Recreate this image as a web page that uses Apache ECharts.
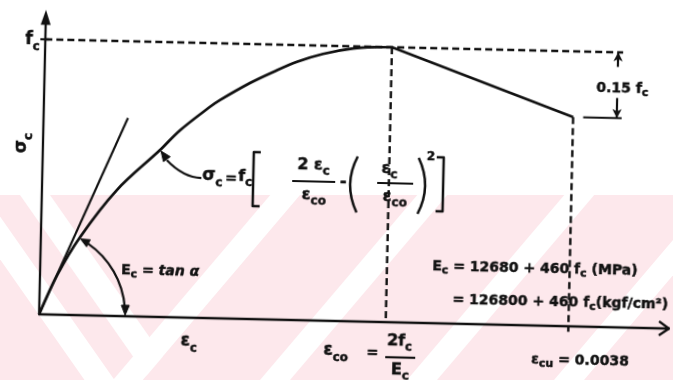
<!DOCTYPE html>
<html>
<head>
<meta charset="utf-8">
<script src="https://cdn.jsdelivr.net/npm/echarts@6/dist/echarts.min.js"></script>
<style>
  html, body { margin: 0; padding: 0; background: #fff; overflow: hidden; }
  .layer { position: absolute; left: 0; top: 0; width: 673px; height: 380px; }
  #chart { transform: rotate(1.3deg); transform-origin: 50% 50%; }
</style>
</head>
<body>
<div id="stamp" class="layer"></div>
<div id="chart" class="layer"></div>
<script>
// Hognestad stress-strain curve for concrete.
// Strain in units of eps_co, stress in units of f_c.
const ascStrain = [0, 0.05, 0.113, 0.216, 0.338, 0.394, 0.479, 0.508, 0.593, 0.659, 0.727, 0.802, 0.888, 0.957, 1.0];
const ascStress = [0, 0.145, 0.284, 0.458, 0.607, 0.68, 0.768, 0.794, 0.858, 0.9, 0.939, 0.970, 0.992, 0.999, 1.0];
const descStrain = [1.0, 1.527];
const descStress = [1.0, 0.761];
const tangentStrain = [0, 0.2434];
const tangentStress = [0, 0.721];
const peakStrain = 1.0, peakStress = 1.0;
const ultStrain = 1.527, ultStress = 0.761;
const dimStart = 1.556, dimEnd = 1.667, dimArrowX = 1.653;

const X_MAX = 1.82, Y_MAX = 1.08;
const FONT = '"DejaVu Sans", "Liberation Sans", sans-serif';
const INK = '#111111';
const PINK = '#fde8ec';

const pairs = (xs, ys) => xs.map((x, i) => [x, ys[i]]);
const base = { type: 'line', symbol: 'none', silent: true, animation: false, clip: false, z: 5 };
const dashed = { color: INK, width: 2.4, type: [7, 4] };

// faint chevron-striped stamp behind the drawing
const stampChart = echarts.init(document.getElementById('stamp'), null, { renderer: 'canvas' });
const STAMP_TOP = 195, STAMP_BOTTOM = 380;
const risingFeet = [113, 260, 407, 554, 701];   // '/' gaps, foot x at the bottom edge
const fallingTops = [-45, 20];                    // '\' gaps, x at the top edge
const stampEls = [{ type: 'rect', silent: true,
  shape: { x: 0, y: STAMP_TOP, width: 673, height: STAMP_BOTTOM - STAMP_TOP }, style: { fill: PINK } }];
risingFeet.forEach(function (b) {
  const run = 0.85 * (STAMP_BOTTOM - STAMP_TOP);
  stampEls.push({ type: 'polygon', silent: true,
    shape: { points: [[b, STAMP_BOTTOM], [b + 30, STAMP_BOTTOM], [b + 30 + run, STAMP_TOP], [b + run, STAMP_TOP]] },
    style: { fill: '#ffffff' } });
});
fallingTops.forEach(function (t) {
  const run = 0.7 * (STAMP_BOTTOM - STAMP_TOP);
  stampEls.push({ type: 'polygon', silent: true,
    shape: { points: [[t, STAMP_TOP], [t + 30, STAMP_TOP], [t + 30 + run, STAMP_BOTTOM], [t + run, STAMP_BOTTOM]] },
    style: { fill: '#ffffff' } });
});
// keep the lower-right part of each '\' gap from crossing the first '/' gap
stampEls.push({ type: 'polygon', silent: true,
  shape: { points: [[143, STAMP_BOTTOM], [143 + 0.85 * 185, STAMP_TOP], [170 + 0.85 * 185, STAMP_TOP], [190, STAMP_BOTTOM]] },
  style: { fill: PINK } });
stampChart.setOption({ animation: false, graphic: stampEls });

const chart = echarts.init(document.getElementById('chart'), null, { renderer: 'canvas' });

chart.setOption({
  animation: false,
  backgroundColor: 'transparent',
  grid: { left: 42, right: 0, top: 24, bottom: 59 },
  xAxis: {
    type: 'value', min: 0, max: X_MAX,
    axisLine: { show: true, onZero: false, lineStyle: { color: INK, width: 2.3 } },
    axisTick: { show: false }, axisLabel: { show: false }, splitLine: { show: false }
  },
  yAxis: {
    type: 'value', min: 0, max: Y_MAX,
    axisLine: { show: true, onZero: false, symbol: ['none', 'triangle'], symbolSize: [10, 15],
      lineStyle: { color: INK, width: 2.3 } },
    axisTick: { show: false }, axisLabel: { show: false }, splitLine: { show: false }
  },
  series: [
    Object.assign({}, base, { data: pairs(ascStrain, ascStress), smooth: 0.35,
      lineStyle: { color: INK, width: 2.7 } }),
    Object.assign({}, base, { data: pairs(descStrain, descStress),
      lineStyle: { color: INK, width: 2.5 } }),
    Object.assign({}, base, { data: pairs(tangentStrain, tangentStress),
      lineStyle: { color: INK, width: 2.1 } }),
    Object.assign({}, base, { data: [[0, peakStress], [dimEnd, peakStress]], lineStyle: dashed }),
    Object.assign({}, base, { data: [[peakStrain, peakStress], [peakStrain, 0]], lineStyle: dashed }),
    Object.assign({}, base, { data: [[ultStrain, ultStress], [ultStrain, -0.02]], lineStyle: dashed }),
    Object.assign({}, base, { data: [[dimStart, ultStress], [dimEnd, ultStress]],
      lineStyle: { color: INK, width: 2.2 } }),
    Object.assign({}, base, {
      data: [],
      markLine: {
        silent: true, animation: false,
        symbol: ['none', 'arrow'], symbolSize: [7, 9],
        label: { show: false },
        lineStyle: { color: INK, width: 2.2, type: 'solid' },
        data: [
          [{ coord: [dimArrowX, 0.947] }, { coord: [dimArrowX, peakStress] }],
          [{ coord: [dimArrowX, 0.834] }, { coord: [dimArrowX, ultStress] }]
        ]
      }
    })
  ]
});

// ---------- annotations ----------
const px = (x, y) => chart.convertToPixel({ gridIndex: 0 }, [x, y]);

function tok(size, extra) {
  return Object.assign({ fontSize: size, fontWeight: 'bold', fontFamily: FONT, fill: INK,
    stroke: INK, lineWidth: 0.5,
    lineHeight: Math.round(size * 1.45), verticalAlign: 'middle' }, extra || {});
}
function sub(size) {
  return tok(size, { lineHeight: Math.round(size * 0.85), verticalAlign: 'bottom' });
}
const RICH = {
  m: tok(14), i: tok(14, { fontStyle: 'italic' }), s: sub(11),
  g: tok(17), gs: sub(12),
  f: tok(16), fs: sub(12),
  n: tok(14), ns: sub(11),
  sup: tok(12)
};

function T(x, y, text, align, rot) {
  align = align || 'left';
  return {
    type: 'text', x: x, y: y, z: 20, silent: true, rotation: rot || 0,
    style: {
      text: text, rich: RICH, fill: INK, font: 'bold 14px ' + FONT,
      align: align, verticalAlign: 'middle', textAlign: align, textVerticalAlign: 'middle'
    }
  };
}
function L(points, w) {
  return { type: 'polyline', z: 20, silent: true, shape: { points: points },
    style: { stroke: INK, lineWidth: w || 2.2, fill: null, lineJoin: 'round' } };
}
function Q(x1, y1, cx, cy, x2, y2, w) {
  return { type: 'bezierCurve', z: 20, silent: true,
    shape: { x1: x1, y1: y1, cpx1: cx, cpy1: cy, x2: x2, y2: y2 },
    style: { stroke: INK, lineWidth: w || 2.2, fill: null } };
}
function head(tip, dir, len, hw) {
  len = len || 9; hw = hw || 3.6;
  const n = Math.hypot(dir[0], dir[1]);
  const ux = dir[0] / n, uy = dir[1] / n;
  const bx = tip[0] - ux * len, by = tip[1] - uy * len;
  return { type: 'polygon', z: 20, silent: true,
    shape: { points: [tip, [bx - uy * hw, by + ux * hw], [bx + uy * hw, by - ux * hw]] },
    style: { fill: INK, stroke: INK, lineWidth: 1 } };
}

function annotate() {
  const O = px(0, 0);
  const xEnd = px(X_MAX, 0);
  const fcTick = px(0, peakStress);
  const lead = px(ascStrain[4], ascStress[4]);

  const R = 86;
  const a1 = -62.5 * Math.PI / 180;
  const upTip = [O[0] + R * Math.cos(a1), O[1] + R * Math.sin(a1)];
  const lowTip = [O[0] + R, O[1] - 1];

  const g = [
    // open arrow at the end of the strain axis
    L([[xEnd[0] - 11, xEnd[1] - 7], [xEnd[0] - 1, xEnd[1]], [xEnd[0] - 11, xEnd[1] + 7]], 2.3),
    // f_c tick on the stress axis
    L([[fcTick[0] - 5, fcTick[1]], [fcTick[0] + 4, fcTick[1]]], 2.2),

    // angle arc for the initial modulus
    { type: 'arc', z: 20, silent: true,
      shape: { cx: O[0], cy: O[1], r: R, startAngle: a1 + 0.1, endAngle: -0.1, clockwise: true },
      style: { stroke: INK, lineWidth: 2.2, fill: null } },
    head(upTip, [Math.sin(a1), -Math.cos(a1)], 9, 4),
    head(lowTip, [0, 1], 10, 4),

    // leader from the formula to the curve
    Q(lead[0] + 7, lead[1] + 10, lead[0] + 24, lead[1] + 27, lead[0] + 42, lead[1] + 27, 2.2),
    head([lead[0] + 1, lead[1] + 1], [-0.6, -0.8], 10, 4.2),

    // axis labels
    T(22, 47, '{g|f}{gs|c}'),
    T(21, 150, '{g|σ}{gs|c}', 'center', Math.PI / 2),
    T(184, 345, '{g|ε}{gs|c}'),

    // sigma_c = f_c [ 2 eps_c / eps_co - (eps_c / eps_co)^2 ]
    T(202, 179, '{g|σ}{gs|c}'),
    T(225, 181, '{m|=}'),
    T(238, 179, '{f|f}{fs|c}'),
    L([[260, 154], [253, 154], [253, 208], [260, 208]], 2.5),
    T(313, 166, '{f|2 ε}{fs|c}', 'center'),
    L([[292, 182], [335, 182]], 2.2),
    T(314, 196, '{f|ε}{fs|co}', 'center'),
    T(343, 182, '{f|-}', 'center'),
    Q(357, 156, 343, 184, 357, 212, 2.5),
    T(389, 168, '{f|ε}{fs|c}', 'center'),
    L([[377, 182], [413, 182]], 2.2),
    T(395, 196, '{f|ε}{fs|co}', 'center'),
    Q(418, 156, 432, 184, 418, 212, 2.5),
    T(426, 155, '{sup|2}'),
    L([[436, 155], [443, 155], [443, 209], [436, 209]], 2.5),

    // initial modulus
    T(123, 275, '{m|E}{s|c}{m| = }{i|tan α}'),

    // eps_co = 2 f_c / E_c
    T(327, 351, '{g|ε}{gs|co}'),
    T(376, 352, '{m|=}', 'center'),
    T(403, 340, '{f|2f}{fs|c}', 'center'),
    L([[389, 356], [419, 356]], 2.2),
    T(404, 369, '{f|E}{fs|c}', 'center'),

    // modulus expressions
    T(434, 264, '{n|E}{ns|c}{n| = 12680 + 460 f}{ns|c}{n| (MPa)}'),
    T(455, 297, '{n|= 126800 + 460 f}{ns|c}{n|(kgf/cm²)}'),

    // ultimate strain and descending-branch drop
    T(535, 355, '{n|ε}{ns|cu}{n| = 0.0038}'),
    T(594, 82, '{n|0.15 f}{ns|c}')
  ];

  chart.setOption({ graphic: g });
}
annotate();
</script>
</body>
</html>
